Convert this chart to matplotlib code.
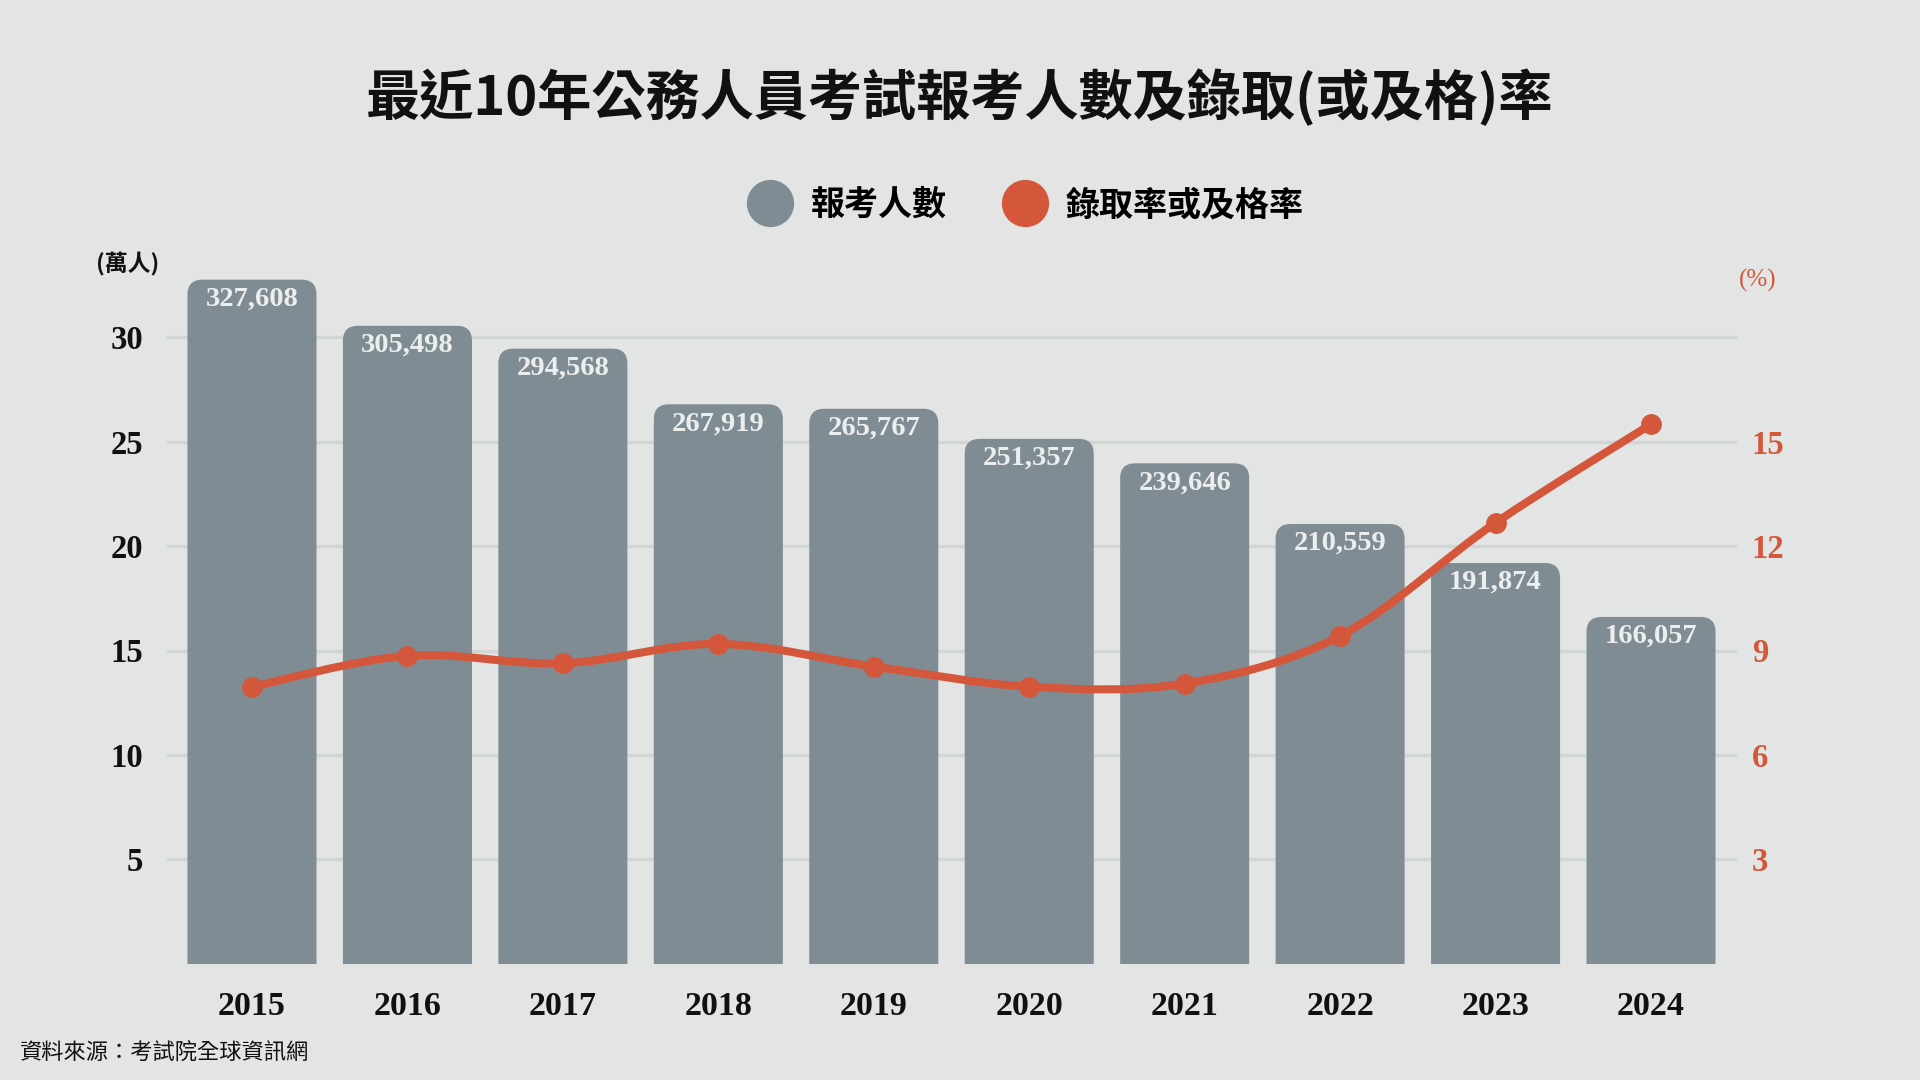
import matplotlib
matplotlib.use("Agg")
import matplotlib.pyplot as plt
from matplotlib.patches import FancyBboxPatch
from matplotlib.path import Path
from matplotlib.patches import PathPatch
from matplotlib.lines import Line2D
import numpy as np

# ---------------- data ----------------
years = ["2015", "2016", "2017", "2018", "2019", "2020", "2021", "2022", "2023", "2024"]
applicants = [327608, 305498, 294568, 267919, 265767, 251357, 239646, 210559, 191874, 166057]
pass_rate = [7.96, 8.85, 8.63, 9.19, 8.54, 7.96, 8.05, 9.42, 12.67, 15.50]
left_ticks = [5, 10, 15, 20, 25, 30]          # 萬人
right_ticks = [3, 6, 9, 12, 15]               # %

title = "最近10年公務人員考試報考人數及錄取(或及格)率"
legend_labels = ["報考人數", "錄取率或及格率"]
source = "資料來源：考試院全球資訊網"

# ---------------- style ----------------
BG = "#e2e5e4"
BAR = "#7f8c93"
RED = "#d4573b"
GRID = "#d1d6d4"
CJK = ["Noto Sans CJK TC", "DejaVu Sans"]
SERIF = ["Liberation Serif", "DejaVu Serif"]

fig = plt.figure(figsize=(19.2, 10.8), dpi=100, facecolor=BG)
FW, FH = 1920, 1080
px_per_wan = 20.88
ymax_wan = 34
base_y = 963.7
left_px, right_px = 166.5, 1736.5
ax = fig.add_axes([left_px / FW, (FH - base_y) / FH,
                   (right_px - left_px) / FW, ymax_wan * px_per_wan / FH])
ax.set_facecolor("none")
x = np.arange(len(years))
ax.set_xlim(-0.55, len(years) - 0.45)
ax.set_ylim(0, ymax_wan * 10000)

# gridlines
ax.set_yticks([v * 10000 for v in left_ticks])
ax.set_yticklabels([str(v) for v in left_ticks])
ax.grid(axis="y", color=GRID, linewidth=2.4, zorder=0)
ax.set_axisbelow(True)
for s in ax.spines.values():
    s.set_visible(False)
ax.tick_params(axis="y", length=0, pad=17, labelsize=23.5, labelcolor="#111111")
for t in ax.get_yticklabels():
    t.set_fontfamily(SERIF)
    t.set_fontweight("bold")
ax.set_xticks(x)
ax.set_xticklabels(years)
ax.tick_params(axis="x", length=0, pad=20, labelsize=24.5, labelcolor="#111111")
for t in ax.get_xticklabels():
    t.set_fontfamily(SERIF)
    t.set_fontweight("bold")

# bars (rounded tops)
bars = ax.bar(x, applicants, width=0.83, color=BAR, zorder=2)
fig.canvas.draw()
p0 = ax.transData.transform((0, 0))
p1 = ax.transData.transform((1, 10000))
px_x = p1[0] - p0[0]          # px per x unit
px_y = p1[1] - p0[1]          # px per 10000 persons
radius_px = 15
r_x = radius_px / px_x
aspect = (10000 / px_y) / (1 / px_x)
for b in bars:
    bx, by, bw, bh = b.get_x(), b.get_y(), b.get_width(), b.get_height()
    b.set_visible(False)
    ext = 2 * r_x * aspect
    patch = FancyBboxPatch((bx, by - ext), bw, bh + ext,
                           boxstyle=f"round,pad=0,rounding_size={r_x}",
                           mutation_aspect=aspect, facecolor=BAR,
                           edgecolor="none", zorder=2, clip_on=True)
    ax.add_patch(patch)
    ax.annotate(f"{int(bh):,}", xy=(b.get_x() + bw / 2, bh), xytext=(0, -14),
                textcoords="offset points", ha="center", va="center",
                fontsize=20.5, fontweight="bold", color="#eceeed",
                family=SERIF, zorder=3)

# right axis with smooth line
ax2 = ax.twinx()
ax2.set_ylim(0, ymax_wan * 0.6)
ax2.set_yticks(right_ticks)
ax2.set_yticklabels([str(v) for v in right_ticks])
ax2.tick_params(axis="y", length=0, pad=11, labelsize=23.5, labelcolor=RED)
for t in ax2.get_yticklabels():
    t.set_fontfamily(SERIF)
    t.set_fontweight("bold")
for s in ax2.spines.values():
    s.set_visible(False)
ax2.set_facecolor("none")

pts = np.column_stack([x, pass_rate]).astype(float)
verts = [tuple(pts[0])]
codes = [Path.MOVETO]
n = len(pts)
for i in range(n - 1):
    pm = pts[i - 1] if i > 0 else pts[i]
    pa = pts[i]
    pb = pts[i + 1]
    pn = pts[i + 2] if i + 2 < n else pts[i + 1]
    c1 = pa + (pb - pm) / 6
    c2 = pb - (pn - pa) / 6
    verts += [tuple(c1), tuple(c2), tuple(pb)]
    codes += [Path.CURVE4, Path.CURVE4, Path.CURVE4]
curve = PathPatch(Path(verts, codes), facecolor="none", edgecolor=RED,
                  linewidth=5.8, capstyle="round", zorder=4)
ax2.add_patch(curve)
ax2.plot(x, pass_rate, linestyle="none", marker="o", markersize=14,
         color=RED, zorder=5)

# unit labels
fig.text(128 / FW, 1 - 264 / FH, "(萬人)", ha="center", va="center",
         fontsize=16.5, fontweight="bold", family=CJK, color="#111111")
fig.text(1758 / FW, 1 - 280 / FH, "(%)", ha="center", va="center",
         fontsize=18, family=SERIF, color=RED)

# title
fig.text(0.5, 1 - 98 / FH, title, ha="center", va="center",
         fontsize=39, fontweight="bold", family=CJK, color="#111111")

# legend
handles = [Line2D([], [], linestyle="none", marker="o", markersize=33, color=BAR),
           Line2D([], [], linestyle="none", marker="o", markersize=33, color=RED)]
leg = fig.legend(handles, legend_labels, loc="center",
                 bbox_to_anchor=(1025 / FW, 1 - 204.5 / FH), ncol=2,
                 frameon=False, handlelength=1.4, handletextpad=0.5,
                 columnspacing=1.6,
                 prop={"family": CJK, "weight": "bold", "size": 24.5})

# source
fig.text(19.6 / FW, 1 - 1053 / FH, source, ha="left", va="center",
         fontsize=16, family=CJK, color="#111111")

fig.savefig("out.png", dpi=100, facecolor=BG)
